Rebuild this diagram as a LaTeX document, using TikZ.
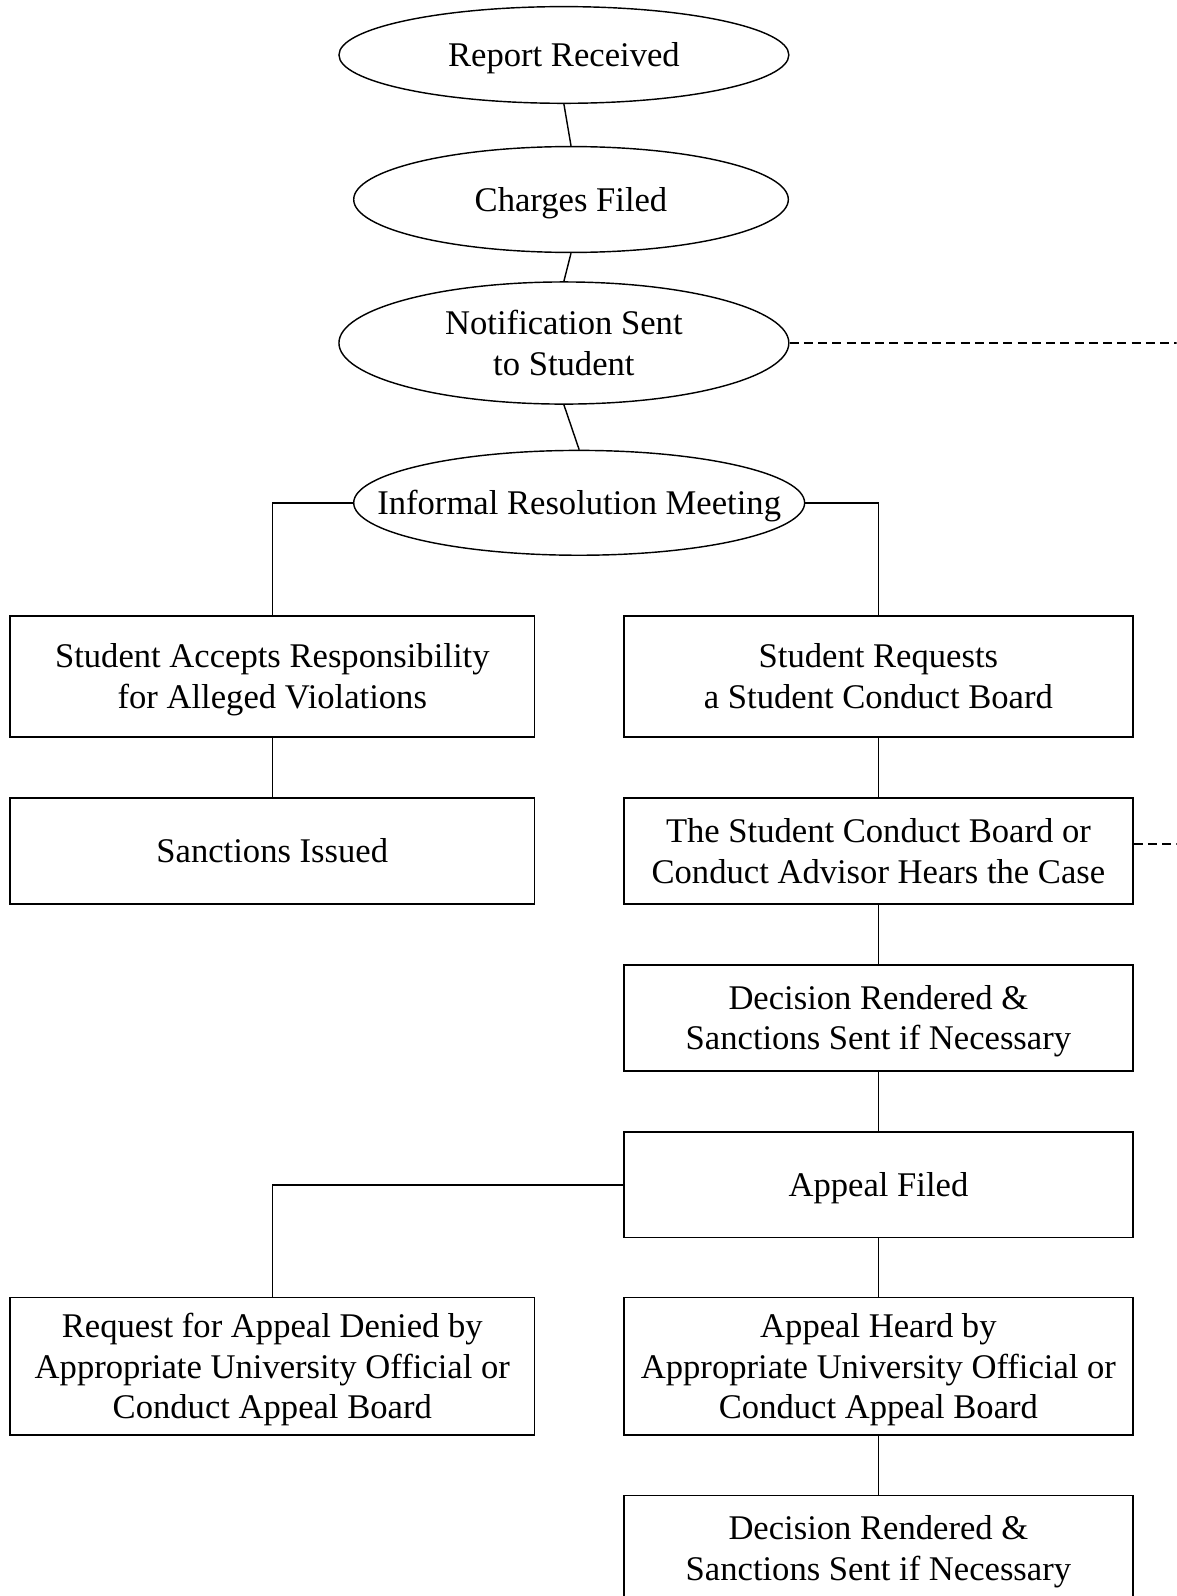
\documentclass[tikz,border=0pt]{standalone}
\usepackage{fontspec}
\setmainfont{Liberation Serif}
\usetikzlibrary{shapes.geometric}
\newcommand\lbl[1]{\raisebox{-3.5pt}[\height][\depth]{\begin{tabular}{@{}c@{}}#1\end{tabular}}}
\begin{document}
\begin{tikzpicture}[x=1pt,y=-1pt,
  oval/.style={ellipse, draw, line width=1.4pt, inner sep=0pt, font=\fontsize{34}{40}\selectfont},
  box/.style={rectangle, draw, line width=1.4pt, inner sep=0pt, font=\fontsize{34}{40}\selectfont},
  leftbox/.style={box, minimum width=515pt},
  rightbox/.style={box, minimum width=500pt},
  link/.style={line width=1.4pt},
  dashlink/.style={line width=1.4pt, dash pattern=on 9pt off 5pt}]
\useasboundingbox (0,0) rectangle (1156,1568);
\clip (0,0) rectangle (1156,1568);
\node[oval, minimum width=442pt, minimum height=95pt] (rep) at (554,54) {\lbl{Report Received}};
\node[oval, minimum width=427pt, minimum height=104pt] (chg) at (561,196) {\lbl{Charges Filed}};
\node[oval, minimum width=442pt, minimum height=120pt] (note) at (554,337) {\lbl{Notification Sent\\to Student}};
\node[oval, minimum width=443pt, minimum height=103pt] (inf) at (569,494) {\makebox[0pt]{\lbl{Informal Resolution Meeting}}};

\node[leftbox, minimum height=119pt] (acc) at (267.5,664.5) {\lbl{Student Accepts Responsibility\\for Alleged Violations}};
\node[rightbox, minimum height=119pt] (req) at (863,664.5) {\lbl{Student Requests\\a Student Conduct Board}};
\node[leftbox, minimum height=104pt] (sanc) at (267.5,836) {\lbl{Sanctions Issued}};
\node[rightbox, minimum height=104pt] (hear) at (863,836) {\lbl{The Student Conduct Board or\\Conduct Advisor Hears the Case}};
\node[rightbox, minimum height=104pt] (dec1) at (863,1000) {\lbl{Decision Rendered \&\\Sanctions Sent if Necessary}};
\node[rightbox, minimum height=104pt] (appf) at (863,1164) {\lbl{Appeal Filed}};
\node[leftbox, minimum height=135pt] (deny) at (267.5,1342.5) {\lbl{Request for Appeal Denied by\\Appropriate University Official or\\Conduct Appeal Board}};
\node[rightbox, minimum height=135pt] (heard) at (863,1342.5) {\lbl{Appeal Heard by\\Appropriate University Official or\\Conduct Appeal Board}};
\node[rightbox, minimum height=104pt] (dec2) at (863,1521) {\lbl{Decision Rendered \&\\Sanctions Sent if Necessary}};

\draw[link] (rep.south) -- (chg.north);
\draw[link] (chg.south) -- (note.north);
\draw[link] (note.south) -- (inf.north);
\draw[link] (inf.west) -| (acc.north);
\draw[link] (inf.east) -| (req.north);
\draw[link] (acc.south) -- (sanc.north);
\draw[link] (req.south) -- (hear.north);
\draw[link] (hear.south) -- (dec1.north);
\draw[link] (dec1.south) -- (appf.north);
\draw[link] (appf.west) -| (deny.north);
\draw[link] (appf.south) -- (heard.north);
\draw[link] (heard.south) -- (dec2.north);

\coordinate (e1) at (1156,337);
\coordinate (e2) at (1156,829);
\draw[dashlink] (note.east) -- (e1);
\draw[dashlink] (hear.east |- e2) -- (e2);
\end{tikzpicture}
\end{document}
